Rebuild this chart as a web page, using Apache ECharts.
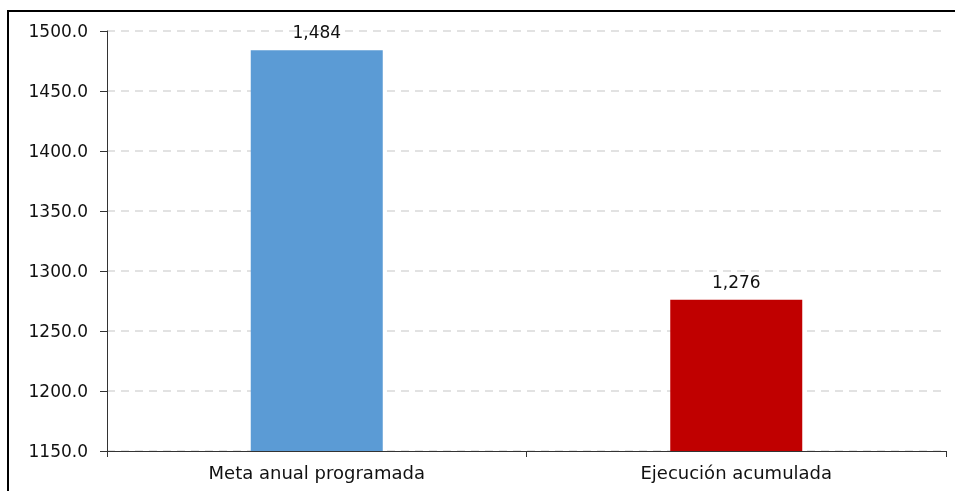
<!DOCTYPE html>
<html><head><meta charset="utf-8">
<script src="https://cdn.jsdelivr.net/npm/echarts@6/dist/echarts.min.js"></script>
<style>html,body{margin:0;padding:0;background:#fff}#c{width:955px;height:491px}</style>
</head><body><div id="c"></div>
<script>
const categories = ['Meta anual programada', 'Ejecución acumulada'];
const values = [1484, 1276];
const barColors = ['#5B9BD5', '#C00000'];
const yMin = 1150, yMax = 1500, yStep = 50;

const chart = echarts.init(document.getElementById('c'), null, {renderer: 'canvas'});
chart.setOption({
  animation: false,
  backgroundColor: '#fff',
  textStyle: {fontFamily: 'DejaVu Sans, sans-serif'},
  graphic: [
    {type: 'rect', shape: {x: 7, y: 10, width: 2, height: 481}, style: {fill: '#000'}, silent: true},
    {type: 'rect', shape: {x: 7, y: 10, width: 948, height: 2}, style: {fill: '#000'}, silent: true}
  ],
  grid: {left: 107, right: 9, top: 31, bottom: 40, containLabel: false},
  xAxis: {
    type: 'category', data: categories,
    axisLine: {lineStyle: {color: '#333', width: 1}},
    axisTick: {show: true, length: 6, lineStyle: {color: '#333'}},
    axisLabel: {color: '#111', fontSize: 18, margin: 14, fontFamily: 'DejaVu Sans'}
  },
  yAxis: {
    type: 'value', min: yMin, max: yMax, interval: yStep,
    axisLine: {show: true, lineStyle: {color: '#333', width: 1}},
    axisTick: {show: true, inside: false, length: 7, lineStyle: {color: '#333'}},
    axisLabel: {color: '#111', fontSize: 17, margin: 19, lineHeight: 22, verticalAlign: 'top', padding: [-9, 0, 0, 0], fontFamily: 'DejaVu Sans', formatter: v => v.toFixed(1)},
    splitLine: {show: true, lineStyle: {color: '#d9d9d9', type: [8, 6], width: 1.5}}
  },
  series: [{
    type: 'bar', barWidth: 132,
    data: values.map((v, i) => ({value: v, itemStyle: {color: barColors[i]}})),
    label: {show: true, position: 'top', distance: 8, color: '#111', fontSize: 17, fontFamily: 'DejaVu Sans',
      formatter: p => p.value.toLocaleString('en-US')}
  }]
});
</script></body></html>
